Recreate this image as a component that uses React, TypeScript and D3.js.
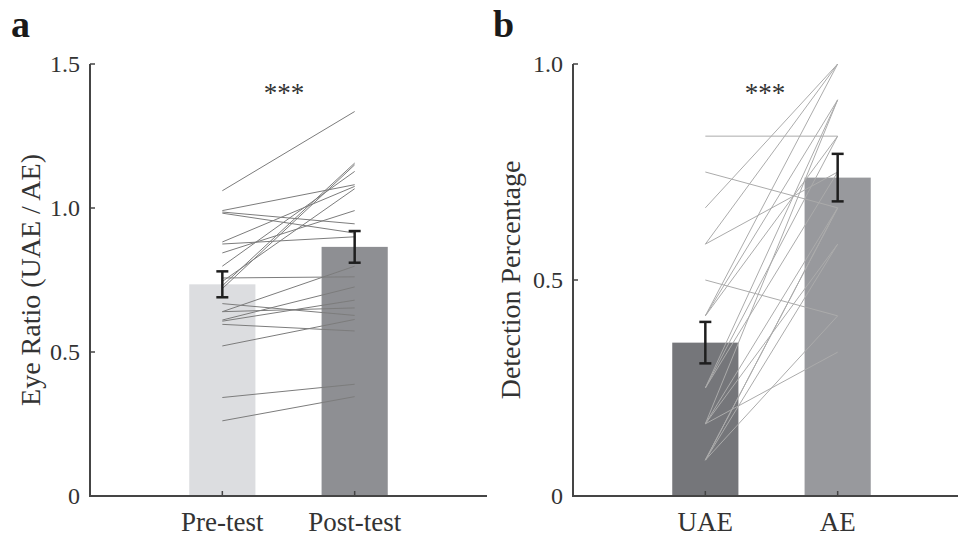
import React from "react";
import * as d3 from "d3";

// Panel a data
const catsA = ["Pre-test", "Post-test"];
const barA = [0.735, 0.865];
const errA = [0.045, 0.055];
const preVals = [1.06, 0.991, 0.986, 0.982, 0.882, 0.875, 0.844, 0.798, 0.73, 0.72, 0.745, 0.757, 0.64, 0.64, 0.611, 0.607, 0.596, 0.668, 0.521, 0.342, 0.261];
const postVals = [1.335, 1.081, 0.945, 0.913, 1.075, 0.9, 0.991, 1.127, 1.156, 1.15, 1.067, 0.761, 0.798, 0.653, 0.726, 0.68, 0.573, 0.627, 0.613, 0.388, 0.345];
const ticksA = [0, 0.5, 1.0, 1.5];
const tickLabelsA = ["0", "0.5", "1.0", "1.5"];

// Panel b data
const catsB = ["UAE", "AE"];
const barB = [0.355, 0.737];
const errB = [0.048, 0.055];
const uaeVals = [0.833, 0.75, 0.667, 0.583, 0.583, 0.5, 0.417, 0.417, 0.417, 0.25, 0.25, 0.25, 0.167, 0.167, 0.167, 0.167, 0.083, 0.083, 0.083, 0.083];
const aeVals = [0.833, 0.667, 1.0, 0.75, 1.0, 0.417, 1.0, 0.917, 0.833, 0.833, 0.917, 0.75, 0.917, 0.583, 0.333, 0.667, 0.417, 0.667, 0.667, 0.583];
const ticksB = [0, 0.5, 1.0];
const tickLabelsB = ["0", "0.5", "1.0"];

const FONT = "'Liberation Serif', 'Times New Roman', serif";
const AXIS = "#454545";

type PanelProps = {
  x0: number;
  x1: number;
  yMax: number;
  cats: string[];
  bars: number[];
  errs: number[];
  colors: string[];
  left: number[];
  right: number[];
  lineColor: string;
  ticks: number[];
  tickLabels: string[];
  title: string;
  titleX: number;
  letter: string;
  letterX: number;
  starX: number;
};

function Panel(p: PanelProps) {
  const x = d3.scaleLinear().domain([0, 3]).range([p.x0, p.x1]);
  const y = d3.scaleLinear().domain([0, p.yMax]).range([496, 64]);
  const bw = x(0.25) - x(0);
  return (
    <g>
      {p.bars.map((v, i) => (
        <rect key={"b" + i} x={x(i + 1) - bw} y={y(v)} width={bw * 2} height={y(0) - y(v)} fill={p.colors[i]} />
      ))}
      {p.left.map((v, i) => (
        <line key={"l" + i} x1={x(1)} y1={y(v)} x2={x(2)} y2={y(p.right[i])} stroke={p.lineColor} strokeWidth={1} />
      ))}
      {p.bars.map((v, i) => {
        const cx = x(i + 1);
        const lo = y(v - p.errs[i]);
        const hi = y(v + p.errs[i]);
        return (
          <g key={"e" + i} stroke="#1e1e1e" strokeWidth={2.5}>
            <line x1={cx} x2={cx} y1={lo} y2={hi} />
            <line x1={cx - 6} x2={cx + 6} y1={lo} y2={lo} />
            <line x1={cx - 6} x2={cx + 6} y1={hi} y2={hi} />
          </g>
        );
      })}
      {/* axes */}
      <line x1={p.x0} x2={p.x0} y1={y(p.yMax)} y2={y(0) + 1} stroke={AXIS} strokeWidth={2} />
      <line x1={p.x0 - 1} x2={p.x1} y1={y(0)} y2={y(0)} stroke={AXIS} strokeWidth={2} />
      {p.ticks.map((t, i) => (
        <g key={"t" + i}>
          <line x1={p.x0} x2={p.x0 + 5} y1={y(t)} y2={y(t)} stroke={AXIS} strokeWidth={1.5} />
          <text x={p.x0 - 10} y={y(t)} dy="0.35em" textAnchor="end" fontFamily={FONT} fontSize={24} fill="#333">
            {p.tickLabels[i]}
          </text>
        </g>
      ))}
      {p.cats.map((c, i) => (
        <g key={"c" + i}>
          <line x1={x(i + 1)} x2={x(i + 1)} y1={y(0)} y2={y(0) - 5} stroke={AXIS} strokeWidth={1.5} />
          <text x={x(i + 1)} y={531} textAnchor="middle" fontFamily={FONT} fontSize={27} fill="#333">
            {c}
          </text>
        </g>
      ))}
      <text
        transform={`translate(${p.titleX},280) rotate(-90)`}
        textAnchor="middle"
        dy="0.35em"
        fontFamily={FONT}
        fontSize={28}
        fill="#333"
      >
        {p.title}
      </text>
      <text x={p.letterX} y={37} fontFamily={FONT} fontWeight="bold" fontSize={38} fill="#1a1a1a">
        {p.letter}
      </text>
      <text x={p.starX} y={102} textAnchor="middle" fontFamily={FONT} fontSize={27} fill="#333">
        ***
      </text>
    </g>
  );
}

export default function App() {
  return (
    <svg width={958} height={537} style={{ position: "absolute", left: 0, top: 0, background: "#fff" }}>
      <rect x={0} y={0} width={958} height={537} fill="#fff" />
      <Panel
        x0={90}
        x1={487}
        yMax={1.5}
        cats={catsA}
        bars={barA}
        errs={errA}
        colors={["#dcdde0", "#8e8f93"]}
        left={preVals}
        right={postVals}
        lineColor="#7c7c7c"
        ticks={ticksA}
        tickLabels={tickLabelsA}
        title="Eye Ratio (UAE / AE)"
        titleX={30}
        letter="a"
        letterX={11}
        starX={284}
      />
      <Panel
        x0={573}
        x1={970}
        yMax={1.0}
        cats={catsB}
        bars={barB}
        errs={errB}
        colors={["#75767a", "#98999d"]}
        left={uaeVals}
        right={aeVals}
        lineColor="#ababab"
        ticks={ticksB}
        tickLabels={tickLabelsB}
        title="Detection Percentage"
        titleX={510}
        letter="b"
        letterX={493}
        starX={765}
      />
    </svg>
  );
}
